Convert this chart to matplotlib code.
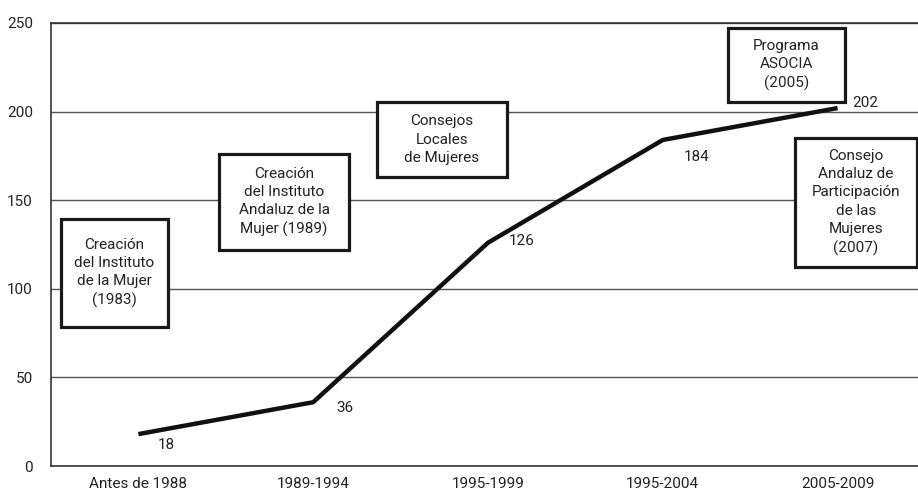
import matplotlib.pyplot as plt
from matplotlib.patches import Rectangle

# datos
periodos = ["Antes de 1988", "1989-1994", "1995-1999", "1995-2004", "2005-2009"]
asociaciones = [18, 36, 126, 184, 202]
# desplazamiento de las etiquetas de valor (puntos)
offsets = [(20, -8), (23, -4), (24, 1), (24, -12), (20, 4)]

# hitos: texto y caja (x0, x1, y0, y1) en unidades de datos
hitos_texto = [
    "Creación\ndel Instituto\nde la Mujer\n(1983)",
    "Creación\ndel Instituto\nAndaluz de la\nMujer (1989)",
    "Consejos\nLocales\nde Mujeres",
    "Programa\nASOCIA\n(2005)",
    "Consejo\nAndaluz de\nParticipación\nde las\nMujeres\n(2007)",
]
hitos_caja = [
    (-0.443, 0.169, 78.4, 139.4),
    (0.461, 1.205, 121.9, 176.1),
    (1.365, 2.109, 163.1, 205.4),
    (3.373, 4.042, 205.4, 247.2),
    (3.756, 4.454, 112.3, 185.1),
]

plt.rcParams["font.family"] = ["Liberation Sans Narrow", "Roboto", "DejaVu Sans"]

fig = plt.figure(figsize=(9.18, 4.95), dpi=100)
ax = fig.add_axes([51 / 918, 29 / 495, 874 / 918, 443 / 495])

x = range(len(periodos))
ax.plot(x, asociaciones, color="#111111", linewidth=3.2, solid_capstyle="butt", zorder=3)

for i, v in enumerate(asociaciones):
    ax.annotate(str(v), (i, v), xytext=offsets[i], textcoords="offset points",
                ha="center", va="center", fontsize=11, color="#222222")

for t, (x0, x1, y0, y1) in zip(hitos_texto, hitos_caja):
    ax.add_patch(Rectangle((x0, y0), x1 - x0, y1 - y0, fc="white", ec="#1a1a1a",
                           lw=2.3, zorder=4))
    ax.text((x0 + x1) / 2, (y0 + y1) / 2, t, ha="center", va="center", fontsize=11,
            color="#222222", linespacing=1.4, zorder=5)

ax.set_xlim(-0.5, 4.5)
ax.set_ylim(0, 250)
ax.set_yticks([0, 50, 100, 150, 200, 250])
ax.set_xticks(list(x))
ax.set_xticklabels(periodos)
ax.tick_params(length=0, labelsize=11, colors="#222222")
ax.tick_params(axis="y", pad=13)
ax.tick_params(axis="x", pad=8)
ax.grid(axis="y", color="#555555", linewidth=1)
ax.set_axisbelow(True)
for s in ["left", "bottom", "top"]:
    ax.spines[s].set_color("#333333")
    ax.spines[s].set_linewidth(1.2)
ax.spines["right"].set_visible(False)

fig.savefig("out.png", dpi=100)
